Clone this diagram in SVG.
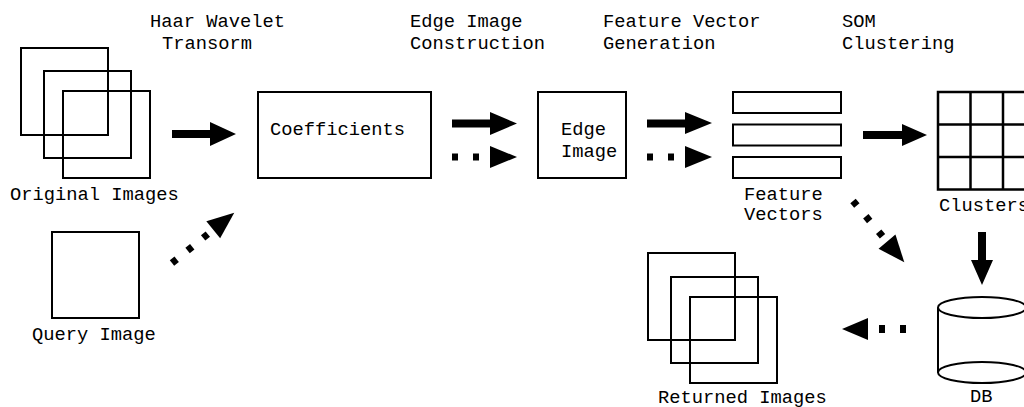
<svg xmlns="http://www.w3.org/2000/svg" width="1024" height="407" viewBox="0 0 1024 407">
<style>
text{font-family:"Liberation Mono","Courier New",monospace;font-size:18.75px;fill:#000}
.b{fill:none;stroke:#000;stroke-width:2}
.g{fill:none;stroke:#000;stroke-width:2.5}
.a{fill:#000;stroke:none}
</style>
<rect width="1024" height="407" fill="#fff"/>
<g id="labels">
<text x="150" y="27">Haar Wavelet</text>
<text x="162" y="49">Transorm</text>
<text x="410" y="27">Edge Image</text>
<text x="410" y="49">Construction</text>
<text x="603" y="27">Feature Vector</text>
<text x="603" y="49">Generation</text>
<text x="842" y="27">SOM</text>
<text x="842" y="49">Clustering</text>
</g>
<g id="original-images">
<rect class="b" x="21" y="48" width="87" height="87"/>
<rect class="b" x="44" y="71" width="87" height="87"/>
<rect class="b" x="63" y="91" width="87" height="87"/>
<text x="10" y="200">Original Images</text>
</g>
<g id="query-image">
<rect class="b" x="52" y="232" width="87" height="86"/>
<text x="32" y="340">Query Image</text>
</g>
<g id="coefficients">
<rect class="b" x="258" y="92" width="173" height="86"/>
<text x="270" y="135">Coefficients</text>
</g>
<g id="edge-image">
<rect class="b" x="538" y="92" width="88" height="86"/>
<text x="561" y="135">Edge</text>
<text x="561" y="157">Image</text>
</g>
<g id="feature-vectors">
<rect class="b" x="733" y="92" width="108" height="21"/>
<rect class="b" x="733" y="124.5" width="108" height="21"/>
<rect class="b" x="733" y="157" width="108" height="21"/>
<text x="744" y="200">Feature</text>
<text x="744" y="220">Vectors</text>
</g>
<g id="clusters">
<rect class="g" x="938" y="92" width="97.5" height="97.5"/>
<path class="g" d="M970.5,92V189.5M1003,92V189.5M938,124.5H1035.5M938,157H1035.5"/>
<text x="939" y="211">Clusters</text>
</g>
<g id="db">
<path class="b" d="M938,307.5V372.5M1026,307.5V372.5"/>
<ellipse class="b" cx="982" cy="307.5" rx="44" ry="10.5"/>
<ellipse class="b" cx="982" cy="372.5" rx="44" ry="10.5"/>
<text x="970" y="402">DB</text>
</g>
<g id="returned-images">
<rect class="b" x="648" y="253" width="87" height="87"/>
<rect class="b" x="671" y="277" width="87" height="86"/>
<rect class="b" x="690" y="297" width="87" height="86"/>
<text x="658" y="403">Returned Images</text>
</g>
<g id="connectors">
<path class="a" d="M172,130H210V122L236,134L210,146V138H172Z"/>
<path class="a" d="M452,119.5H490V112L517,123.5L490,135V127.5H452Z"/>
<rect class="a" x="452" y="153.5" width="6" height="7"/>
<rect class="a" x="473" y="153.5" width="6" height="7"/>
<path class="a" d="M490,146L517,157L490,168Z"/>
<path class="a" d="M647,119.5H685V112L712,123L685,134V127.5H647Z"/>
<rect class="a" x="647" y="153.5" width="6" height="7"/>
<rect class="a" x="668" y="153.5" width="6" height="7"/>
<path class="a" d="M685,146L712,157L685,168Z"/>
<path class="a" d="M863,131H902V124L927,135L902,146V139H863Z"/>
<path class="a" d="M978,232V260H971L982,285L993,260H986V232Z"/>
<path class="a" d="M842,329L868,318L868,340Z"/>
<rect class="a" x="879" y="325" width="6" height="8"/>
<rect class="a" x="900" y="325" width="6" height="8"/>
<g transform="translate(172,263) rotate(-38.9)">
<rect class="a" x="0" y="-3.5" width="6" height="7"/>
<rect class="a" x="20" y="-3.5" width="6" height="7"/>
<rect class="a" x="40" y="-3.5" width="6" height="7"/>
<path class="a" d="M53,-11L80,0L53,11Z"/>
</g>
<g transform="translate(853,201) rotate(50.1)">
<rect class="a" x="0" y="-3.5" width="6" height="7"/>
<rect class="a" x="20" y="-3.5" width="6" height="7"/>
<rect class="a" x="40" y="-3.5" width="6" height="7"/>
<path class="a" d="M53,-11L80,0L53,11Z"/>
</g>
</g>
</svg>
